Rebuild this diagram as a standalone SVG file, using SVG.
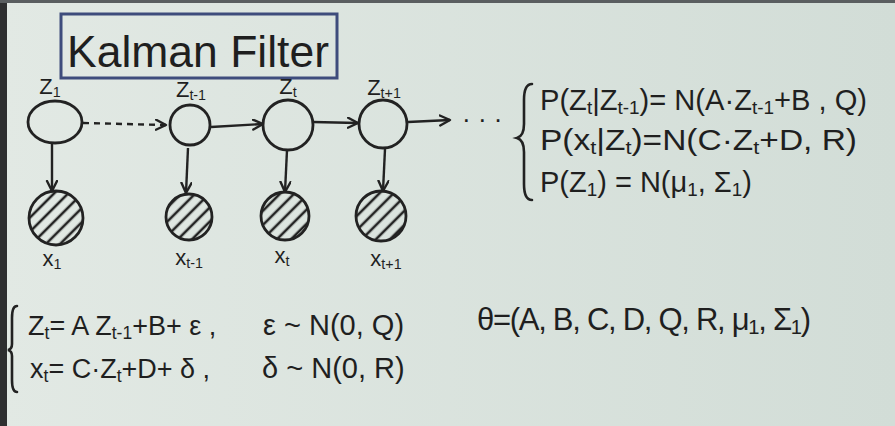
<svg xmlns="http://www.w3.org/2000/svg" width="895" height="426" viewBox="0 0 895 426">
<defs>
<linearGradient id="bg" x1="0" y1="0" x2="1" y2="0">
<stop offset="0" stop-color="#e2e9e4"/>
<stop offset="1" stop-color="#d2ddd7"/>
</linearGradient>
<pattern id="hatch" patternUnits="userSpaceOnUse" width="10" height="10" patternTransform="rotate(45)">
<line x1="5" y1="0" x2="5" y2="10" stroke="#222" stroke-width="2.6"/>
</pattern>
<marker id="ah" markerUnits="userSpaceOnUse" markerWidth="14" markerHeight="14" refX="11" refY="6" orient="auto">
<path d="M1,1 L11,6 L1,11" fill="none" stroke="#222" stroke-width="2.4" stroke-linecap="round" stroke-linejoin="round"/>
</marker>
</defs>
<style>
text{font-family:"Liberation Sans","DejaVu Sans",sans-serif;fill:#1f1f1f;}
.sub{font-size:65%;baseline-shift:-22%;}
.node{fill:none;stroke:#222;stroke-width:2.8;}
.obs{fill:url(#hatch);stroke:#222;stroke-width:2.8;}
.lbl{font-size:22px;text-anchor:middle;}
.eq{font-size:29px;}
.eqs{font-size:27px;}
.edge{stroke:#222;stroke-width:2.4;fill:none;marker-end:url(#ah);}
.brace{fill:none;stroke:#222;stroke-width:2.6;stroke-linecap:round;}
</style>
<rect width="895" height="426" fill="url(#bg)"/>
<rect x="0" y="0" width="7" height="426" fill="#2e2f30"/>
<rect x="0" y="0" width="895" height="3" fill="#5a5e60"/>

<g id="title">
<rect x="61" y="14" width="276" height="64" fill="none" stroke="#3e4c7c" stroke-width="3"/>
<text x="67" y="67" font-size="44" textLength="262" lengthAdjust="spacingAndGlyphs">Kalman Filter</text>
</g>

<g id="connectors">
<line class="edge" x1="83" y1="123" x2="166" y2="125" stroke-dasharray="6 5"/>
<line class="edge" x1="211" y1="127" x2="263" y2="124"/>
<line class="edge" x1="313" y1="122" x2="358" y2="123"/>
<line class="edge" x1="408" y1="122" x2="450" y2="120"/>
<line class="edge" x1="52" y1="143" x2="52" y2="191"/>
<line class="edge" x1="188" y1="148" x2="186" y2="193"/>
<line class="edge" x1="287" y1="150" x2="285" y2="192"/>
<line class="edge" x1="385" y1="149" x2="383" y2="191"/>
<text x="462" y="128" font-size="26">· · ·</text>
</g>

<g id="z1">
<ellipse class="node" cx="55" cy="122" rx="27" ry="21"/>
<text class="lbl" x="50" y="94">Z<tspan class="sub">1</tspan></text>
</g>
<g id="zt-1">
<circle class="node" cx="190" cy="125" r="20"/>
<text class="lbl" x="191" y="97">Z<tspan class="sub">t-1</tspan></text>
</g>
<g id="zt">
<circle class="node" cx="288" cy="125" r="25"/>
<text class="lbl" x="288" y="94">Z<tspan class="sub">t</tspan></text>
</g>
<g id="zt+1">
<circle class="node" cx="383" cy="124" r="24"/>
<text class="lbl" x="384" y="95">Z<tspan class="sub">t+1</tspan></text>
</g>

<g id="x1">
<circle class="obs" cx="56" cy="218" r="27"/>
<text class="lbl" x="52" y="266">x<tspan class="sub">1</tspan></text>
</g>
<g id="xt-1">
<circle class="obs" cx="189" cy="217" r="23"/>
<text class="lbl" x="189" y="265">x<tspan class="sub">t-1</tspan></text>
</g>
<g id="xt">
<circle class="obs" cx="285" cy="216" r="24"/>
<text class="lbl" x="282" y="263">x<tspan class="sub">t</tspan></text>
</g>
<g id="xt+1">
<circle class="obs" cx="381" cy="216" r="25"/>
<text class="lbl" x="386" y="266">x<tspan class="sub">t+1</tspan></text>
</g>

<g id="model-eqs">
<path class="brace" d="M532,84 Q524,84 524,100 L524,124 Q524,136 517,138 Q524,140 524,152 L524,184 Q524,200 532,200"/>
<text class="eq" x="540" y="110" textLength="327" lengthAdjust="spacingAndGlyphs">P(Z<tspan class="sub">t</tspan>|Z<tspan class="sub">t-1</tspan>)= N(A·Z<tspan class="sub">t-1</tspan>+B , Q)</text>
<text class="eq" x="540" y="150" textLength="317" lengthAdjust="spacingAndGlyphs">P(x<tspan class="sub">t</tspan>|Z<tspan class="sub">t</tspan>)=N(C·Z<tspan class="sub">t</tspan>+D, R)</text>
<text class="eq" x="540" y="192">P(Z<tspan class="sub">1</tspan>) = N(μ<tspan class="sub">1</tspan>, Σ<tspan class="sub">1</tspan>)</text>
</g>

<g id="state-eqs">
<path class="brace" d="M17,306 Q12,306 12,318 L12,344 Q12,349 8,350 Q12,351 12,356 L12,380 Q12,392 17,392"/>
<text class="eqs" x="28" y="335">Z<tspan class="sub">t</tspan>= A Z<tspan class="sub">t-1</tspan>+B+ ε ,</text>
<text class="eq" x="263" y="335">ε ~ N(0, Q)</text>
<text class="eqs" x="30" y="378">x<tspan class="sub">t</tspan>= C·Z<tspan class="sub">t</tspan>+D+ δ ,</text>
<text class="eq" x="262" y="378">δ ~ N(0, R)</text>
</g>

<g id="theta">
<text x="477" y="330" font-size="31" textLength="334" lengthAdjust="spacing">θ=(A, B, C, D, Q, R, μ<tspan class="sub">1</tspan>, Σ<tspan class="sub">1</tspan>)</text>
</g>
</svg>
